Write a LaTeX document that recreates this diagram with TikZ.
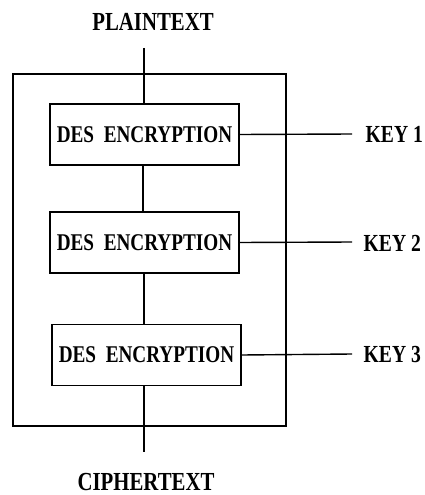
\documentclass[tikz,border=0pt]{standalone}
\usepackage{fontspec}
\setmainfont{Liberation Serif}[FakeStretch=0.8]
\begin{document}
\begin{tikzpicture}[x=1pt,y=-1pt,
  line width=1.4pt,
  lbl/.style={font=\fontsize{26}{28}\selectfont\bfseries, inner sep=0pt},
  keylbl/.style={font=\fontsize{24.5}{26}\selectfont\bfseries, inner sep=0pt, anchor=west},
  desbox/.style={draw, rectangle, minimum width=189pt, minimum height=61pt,
    font=\fontsize{24}{26}\selectfont\bfseries, inner sep=0pt}]
\useasboundingbox (0,0) rectangle (424,495);
% outer enclosure
\node[draw, rectangle, minimum width=273pt, minimum height=352pt, inner sep=0pt] (frame) at (149.5,250) {};
% the three DES stages
\node[desbox] (d1) at (144.5,134.5) {DES\ \ ENCRYPTION};
\node[desbox] (d2) at (144.5,242.5) {DES\ \ ENCRYPTION};
\node[desbox] (d3) at (146.5,355) {DES\ \ ENCRYPTION};
% inputs and outputs
\node[lbl] (pt) at (153,22) {PLAINTEXT};
\node[lbl] (ct) at (146,482) {CIPHERTEXT};
\node[keylbl] (k1) at (365,134) {KEY 1};
\node[keylbl] (k2) at (363,243) {KEY 2};
\node[keylbl] (k3) at (363,355) {KEY 3};
\coordinate (ptend) at (144,48);
\coordinate (ctend) at (144,452);
\coordinate (k1end) at (352,134);
\coordinate (k2end) at (352,242);
\coordinate (k3end) at (352,354);
% connectors
\draw (ptend) -- (ptend |- d1.north);
\draw (d1.south -| 143,0) -- (d2.north -| 143,0);
\draw (d2.south -| 144,0) -- (d3.north -| 144,0);
\draw (d3.south -| 144,0) -- (ctend);
\draw (d1.east) -- (k1end);
\draw (d2.east) -- (k2end);
\draw (d3.east) -- (k3end);
\end{tikzpicture}
\end{document}
